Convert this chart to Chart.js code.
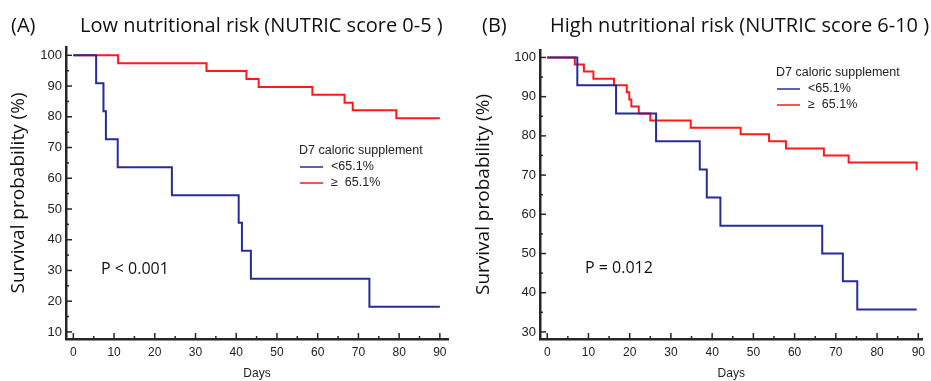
<!DOCTYPE html>
<html>
<head>
<meta charset="utf-8">
<script src="https://cdn.jsdelivr.net/npm/chart.js@4.4.0/dist/chart.umd.min.js"></script>
<style>
  body { margin: 0; background: #fff; width: 931px; height: 381px; position: relative; overflow: hidden; }
  .panel { position: absolute; top: 0; height: 381px; }
  .head { position: absolute; top: 11px; font-family: "Open Sans"; font-size: 20px; color: #111; white-space: nowrap; }
</style>
</head>
<body>
<div class="panel" style="left:0;width:465px"><canvas id="chartA"></canvas></div>
<div class="panel" style="left:465px;width:466px"><canvas id="chartB"></canvas></div>
<div class="head" style="left:11px">(A)</div>
<div class="head" style="left:80px">Low nutritional risk (NUTRIC score 0-5 )</div>
<div class="head" style="left:482px">(B)</div>
<div class="head" style="left:550px">High nutritional risk (NUTRIC score 6-10 )</div>
<script>
// legend / series names
const legendTitle = "D7 caloric supplement";
const seriesNames = ["<65.1%", "\u2265  65.1%"];

// panel A - low nutritional risk, survival steps (day of drop, new level %)
const lowBelowDays = [0, 5.6, 7.4, 8.0, 10.9, 24.2, 40.6, 41.4, 43.6, 72.7, 90];
const lowBelowSurv = [100, 90.9, 81.8, 72.7, 63.6, 54.5, 45.5, 36.4, 27.3, 18.2, 18.2];
const lowAboveDays = [0, 11.0, 32.7, 42.5, 45.5, 58.7, 66.6, 68.6, 79.3, 90];
const lowAboveSurv = [100, 97.4, 94.9, 92.3, 89.7, 87.2, 84.6, 82.1, 79.5, 79.5];

// panel B - high nutritional risk
const highBelowDays = [0, 7.3, 16.7, 26.4, 37.0, 38.7, 42.0, 66.7, 71.7, 75.2, 89.6];
const highBelowSurv = [100, 92.9, 85.7, 78.6, 71.4, 64.3, 57.1, 50.0, 42.9, 35.7, 35.7];
const highAboveDays = [0, 6.7, 8.9, 11.2, 16.2, 19.3, 19.9, 20.4, 22.2, 25.0, 34.8, 46.9, 53.8, 57.9, 67.1, 73.1, 89.6, 89.7];
const highAboveSurv = [100, 98.2, 96.4, 94.6, 92.9, 91.1, 89.3, 87.5, 85.7, 83.9, 82.1, 80.4, 78.6, 76.8, 75.0, 73.2, 71.4, 71.4];

// tick labels
const dayTicks = [0, 10, 20, 30, 40, 50, 60, 70, 80, 90];
const lowSurvTicks = [10, 20, 30, 40, 50, 60, 70, 80, 90, 100];
const highSurvTicks = [30, 40, 50, 60, 70, 80, 90, 100];

const blue = "#262c98";
const red = "#ff1a1a";
const axisColor = "#262626";

// ticks drawn inward from the axes, majors longer than minors
const innerTicks = {
  id: "innerTicks",
  afterDraw(chart, args, o) {
    const ctx = chart.ctx, xs = chart.scales.x, ys = chart.scales.y, area = chart.chartArea;
    const minor = arr => arr.slice(0, -1).map((v, i) => (v + arr[i + 1]) / 2);
    ctx.save();
    ctx.strokeStyle = axisColor;
    ctx.lineWidth = 1.5;
    const seg = (x1, y1, x2, y2) => { ctx.beginPath(); ctx.moveTo(x1, y1); ctx.lineTo(x2, y2); ctx.stroke(); };
    o.x.forEach(v => { const p = xs.getPixelForValue(v); seg(p, area.bottom, p, area.bottom - 6); });
    minor(o.x).forEach(v => { const p = xs.getPixelForValue(v); seg(p, area.bottom, p, area.bottom - 3); });
    o.y.forEach(v => { const p = ys.getPixelForValue(v); seg(area.left, p, area.left + 6, p); });
    minor(o.y).forEach(v => { const p = ys.getPixelForValue(v); seg(area.left, p, area.left + 3, p); });
    ctx.restore();
  }
};

// legend box and p-value text inside the plot
const notes = {
  id: "notes",
  afterDraw(chart, args, o) {
    const ctx = chart.ctx;
    ctx.save();
    ctx.textBaseline = "middle";
    ctx.fillStyle = "#222";
    ctx.font = "12.5px 'Liberation Sans'";
    ctx.fillText(legendTitle, o.legend.x, o.legend.y);
    chart.data.datasets.forEach((ds, i) => {
      const yy = o.legend.y + 16 + i * 16;
      ctx.strokeStyle = ds.borderColor;
      ctx.lineWidth = 1.5;
      ctx.beginPath(); ctx.moveTo(o.legend.x + 1, yy); ctx.lineTo(o.legend.x + 24, yy); ctx.stroke();
      ctx.fillStyle = "#222";
      ctx.fillText(ds.label, o.legend.x + 32, yy);
    });
    ctx.font = "16px 'Open Sans'";
    ctx.fillStyle = "#111";
    ctx.fillText(o.p.text, o.p.x, o.p.y);
    ctx.restore();
  }
};

function kmChart(id, below, above, yTicks, lim, pad, yWidth, legendPos, pText) {
  const pts = (d, s) => d.map((v, i) => ({ x: v, y: s[i] }));
  return new Chart(document.getElementById(id), {
    type: "line",
    data: {
      datasets: [
        { label: seriesNames[0], data: pts(below[0], below[1]), borderColor: blue, borderWidth: 2, stepped: true, pointRadius: 0, fill: false },
        { label: seriesNames[1], data: pts(above[0], above[1]), borderColor: red, borderWidth: 2, stepped: true, pointRadius: 0, fill: false }
      ]
    },
    options: {
      responsive: true,
      maintainAspectRatio: false,
      animation: false,
      layout: { padding: pad },
      plugins: {
        legend: { display: false },
        tooltip: { enabled: false },
        innerTicks: { x: dayTicks, y: yTicks },
        notes: { legend: legendPos, p: pText }
      },
      scales: {
        x: {
          type: "linear", min: lim.xmin, max: lim.xmax,
          afterBuildTicks: s => { s.ticks = dayTicks.map(v => ({ value: v })); },
          afterFit: s => { s.height = 42; },
          grid: { display: true, drawOnChartArea: false, drawTicks: false },
          border: { display: true, color: axisColor, width: 2.5 },
          ticks: { autoSkip: false, maxRotation: 0, padding: 6, color: "#222", font: { family: "Liberation Sans", size: 12 } },
          title: { display: true, text: "Days", color: "#222", padding: { top: 2, bottom: 0 }, font: { family: "Liberation Sans", size: 12 } }
        },
        y: {
          type: "linear", min: lim.ymin, max: lim.ymax,
          afterBuildTicks: s => { s.ticks = yTicks.map(v => ({ value: v })); },
          afterFit: s => { s.width = yWidth; },
          grid: { display: true, drawOnChartArea: false, drawTicks: false },
          border: { display: true, color: axisColor, width: 2.5 },
          ticks: { autoSkip: false, padding: 4, color: "#222", font: { family: "Liberation Sans", size: 13 } },
          title: { display: true, text: "Survival probability (%)", color: "#111", padding: { top: 7, bottom: 0 }, font: { family: "Open Sans", size: 19 } }
        }
      }
    },
    plugins: [innerTicks, notes]
  });
}

kmChart("chartA", [lowBelowDays, lowBelowSurv], [lowAboveDays, lowAboveSurv], lowSurvTicks,
  { xmin: -1.8, xmax: 92, ymin: 7.7, ymax: 102.7 },
  { top: 47, right: 17, left: 0, bottom: 0 }, 66,
  { x: 299, y: 151 }, { text: "P < 0.001", x: 101, y: 269 });

kmChart("chartB", [highBelowDays, highBelowSurv], [highAboveDays, highAboveSurv], highSurvTicks,
  { xmin: -1.75, xmax: 91, ymin: 28.2, ymax: 101.9 },
  { top: 50, right: 2, left: 0, bottom: 0 }, 75,
  { x: 311, y: 73 }, { text: "P = 0.012", x: 120, y: 268 });
</script>
</body>
</html>
